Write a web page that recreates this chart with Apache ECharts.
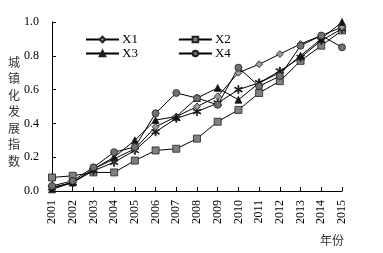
<!DOCTYPE html>
<html>
<head>
<meta charset="utf-8">
<script src="https://cdn.jsdelivr.net/npm/echarts@6/dist/echarts.min.js"></script>
<style>
html, body { margin: 0; padding: 0; background: #fff; }
#main { width: 383px; height: 253px; }
</style>
</head>
<body>
<div id="main"></div>
<script>
var years = ['2001', '2002', '2003', '2004', '2005', '2006', '2007', '2008',
	'2009', '2010', '2011', '2012', '2013', '2014', '2015'];
var x1 = [0.02, 0.05, 0.13, 0.19, 0.25, 0.38, 0.44, 0.50, 0.56, 0.70, 0.75, 0.81, 0.87, 0.92, 0.97];
var x2 = [0.08, 0.09, 0.11, 0.11, 0.18, 0.24, 0.25, 0.31, 0.41, 0.48, 0.58, 0.65, 0.77, 0.86, 0.95];
var x3 = [0.01, 0.05, 0.13, 0.20, 0.30, 0.42, 0.44, 0.55, 0.61, 0.54, 0.64, 0.70, 0.80, 0.90, 1.00];
var x4 = [0.03, 0.06, 0.14, 0.23, 0.26, 0.46, 0.58, 0.55, 0.51, 0.73, 0.62, 0.68, 0.86, 0.92, 0.85];
var x5 = [0.02, 0.05, 0.12, 0.17, 0.24, 0.35, 0.43, 0.47, 0.52, 0.60, 0.64, 0.71, 0.79, 0.89, 0.96];
var yTicks = [0, 0.2, 0.4, 0.6, 0.8, 1.0];

var serif = '"Liberation Serif", "DejaVu Serif", serif';
var asterisk = 'path://M-0.6,-5H0.6V5H-0.6Z M-4.6,-2.2L-4,-3.2L4.6,2.2L4,3.2Z M-4.6,2.2L-4,3.2L4.6,-2.2L4,-3.2Z';

function makeSeries(name, data, symbol, size, fill) {
	return {
		name : name,
		type : 'line',
		data : data,
		symbol : symbol,
		symbolSize : size,
		showAllSymbol : true,
		lineStyle : {
			color : '#000',
			width : 1
		},
		itemStyle : {
			color : fill,
			borderColor : '#222',
			borderWidth : 0.8
		}
	};
}

function makeLegend(names, top) {
	return {
		data : names,
		left : 80,
		top : top,
		itemWidth : 33,
		itemHeight : 7,
		itemGap : 40,
		textStyle : {
			fontFamily : serif,
			fontSize : 13,
			color : '#000',
			padding : [ 0, 0, 0, -2 ]
		}
	};
}

var chart = echarts.init(document.getElementById('main'));
var option = {
	animation : false,
	grid : {
		left : 52,
		right : 41,
		top : 22,
		bottom : 62
	},
	legend : [ makeLegend([ 'X1', 'X2' ], 28), makeLegend([ 'X3', 'X4' ], 42) ],
	xAxis : {
		type : 'category',
		data : years,
		boundaryGap : false,
		axisLine : {
			lineStyle : {
				color : '#000'
			}
		},
		axisTick : {
			inside : true,
			length : 4,
			lineStyle : {
				color : '#000'
			}
		},
		axisLabel : {
			rotate : 90,
			margin : 9,
			fontFamily : serif,
			fontSize : 12,
			color : '#000'
		},
		splitLine : {
			show : false
		}
	},
	yAxis : {
		type : 'value',
		min : yTicks[0],
		max : yTicks[yTicks.length - 1],
		interval : 0.2,
		axisLine : {
			show : true,
			lineStyle : {
				color : '#000'
			}
		},
		axisTick : {
			show : true,
			inside : true,
			length : 4,
			lineStyle : {
				color : '#000'
			}
		},
		axisLabel : {
			margin : 13,
			fontFamily : serif,
			fontSize : 12,
			color : '#000',
			formatter : function(v) {
				return v.toFixed(1);
			}
		},
		splitLine : {
			show : false
		}
	},
	graphic : [ {
		type : 'text',
		left : 8,
		top : 54,
		style : {
			text : '城\n镇\n化\n发\n展\n指\n数',
			font : '12px "Noto Sans CJK SC"',
			lineHeight : 16.5,
			fill : '#333'
		}
	}, {
		type : 'text',
		left : 320,
		top : 234,
		style : {
			text : '年份',
			font : '12px "Noto Sans CJK SC"',
			fill : '#333'
		}
	} ],
	series : [
		makeSeries('X2', x2, 'rect', 7, '#808080'),
		makeSeries('X5', x5, asterisk, 8, '#000'),
		makeSeries('X1', x1, 'diamond', 7, '#999'),
		makeSeries('X3', x3, 'triangle', 7, '#111'),
		makeSeries('X4', x4, 'circle', 7, '#707070')
	]
};
chart.setOption(option);
</script>
</body>
</html>
